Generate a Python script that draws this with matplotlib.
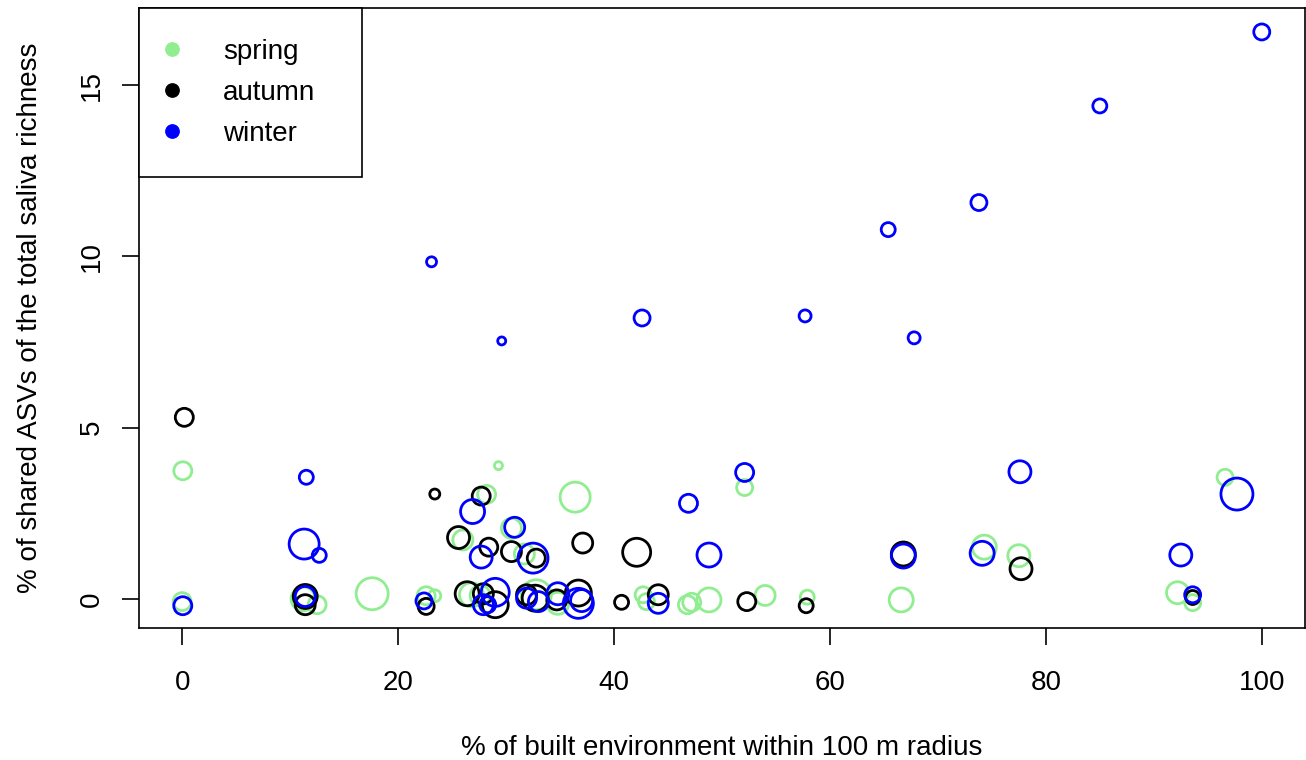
import numpy as np
import matplotlib
matplotlib.use("Agg")
import matplotlib.pyplot as plt
from matplotlib.lines import Line2D

plt.rcParams['font.family'] = ['Liberation Sans', 'DejaVu Sans']

# datos: x = % built, y = % shared ASVs, size = tamaño relativo del circulo
spring_x = [0.06, 29.3, 28.2, 36.4, 30.5, 26.0, 31.7, 52.1, 96.6, 74.3, 77.5,
            0.0, 12.5, 11.2, 17.6, 22.6, 23.4, 26.8, 27.6, 32.8, 34.8, 42.7,
            43.0, 46.8, 47.2, 48.8, 54.0, 57.9, 66.6, 92.2, 93.6]
spring_y = [3.74, 3.89, 3.05, 2.97, 2.06, 1.72, 1.31, 3.25, 3.55, 1.51, 1.26,
            -0.08, -0.17, 0.0, 0.15, 0.09, 0.09, 0.12, 0.10, 0.12, -0.13, 0.12,
            -0.08, -0.17, -0.10, -0.03, 0.10, 0.05, -0.03, 0.18, -0.11]
spring_size = [9, 4, 9, 15, 10, 10, 10, 8, 8, 12, 11,
               9, 9, 12, 16, 9, 6, 12, 10, 15, 11, 8,
               8, 9, 9, 12, 10, 7, 12, 11, 8]

autumn_x = [0.2, 23.4, 27.7, 25.6, 28.4, 30.5, 32.8, 37.1, 42.1, 66.8, 77.7,
            93.6, 11.4, 11.4, 22.6, 26.4, 27.9, 29.0, 31.9, 32.7, 34.7, 36.7,
            40.7, 44.1, 52.3, 57.8]
autumn_y = [5.30, 3.06, 3.00, 1.79, 1.51, 1.38, 1.19, 1.63, 1.36, 1.31, 0.88,
            0.04, 0.07, -0.17, -0.22, 0.15, 0.15, -0.17, 0.12, 0.02, -0.03, 0.17,
            -0.10, 0.12, -0.08, -0.20]
autumn_size = [9, 5, 9, 11, 9, 10, 9, 10, 14, 12, 11,
               7, 12, 10, 8, 12, 10, 13, 10, 13, 10, 13,
               7, 10, 9, 7]

winter_x = [100.0, 85.0, 73.8, 65.4, 23.1, 42.6, 57.7, 67.8, 29.6, 52.1, 46.9,
            77.6, 97.7, 11.5, 26.9, 30.8, 27.7, 32.5, 11.3, 12.7, 48.8, 66.8,
            74.1, 92.5, 93.6, 0.06, 11.4, 22.4, 29.0, 27.9, 28.3, 31.9, 33.0,
            34.8, 37.0, 36.7, 44.1]
winter_y = [16.55, 14.39, 11.57, 10.78, 9.84, 8.20, 8.26, 7.62, 7.53, 3.69, 2.79,
            3.71, 3.06, 3.55, 2.55, 2.09, 1.22, 1.19, 1.60, 1.27, 1.28, 1.25,
            1.33, 1.28, 0.12, -0.20, 0.07, -0.06, 0.19, -0.17, -0.17, 0.02, -0.08,
            0.15, -0.05, -0.13, -0.13]
winter_size = [8, 7, 8, 7, 5, 8, 6, 6, 4, 9, 9,
               11, 16, 7, 12, 10, 11, 15, 15, 7, 12, 12,
               12, 11, 8, 9, 10, 8, 14, 10, 8, 10, 10,
               11, 11, 15, 10]

seasons = ["spring", "autumn", "winter"]
colors = ["lightgreen", "black", "blue"]

dpi = 100
fig = plt.figure(figsize=(13.06, 7.6), dpi=dpi)
ax = fig.add_axes([0.1064, 0.1737, 0.8928, 0.8158])

px2pt = 72.0 / dpi
for xs, ys, ss, c in [(spring_x, spring_y, spring_size, colors[0]),
                      (autumn_x, autumn_y, autumn_size, colors[1]),
                      (winter_x, winter_y, winter_size, colors[2])]:
    s = (2 * np.array(ss) * px2pt) ** 2
    ax.scatter(xs, ys, s=s, facecolors='none', edgecolors=c, linewidths=2.0)

ax.set_xlim(-4, 104)
ax.set_ylim(-0.85, 17.25)
ax.set_xticks([0, 20, 40, 60, 80, 100])
ax.set_yticks([0, 5, 10, 15])
ax.tick_params(direction='out', length=12, width=1.2, labelsize=20)
ax.tick_params(axis='x', pad=18)
ax.tick_params(axis='y', pad=12.5)
for lab in ax.get_yticklabels():
    lab.set_rotation(90)
    lab.set_va('center')
for sp in ax.spines.values():
    sp.set_linewidth(1.2)

ax.set_xlabel('% of built environment within 100 m radius', fontsize=20)
ax.set_ylabel('% of shared ASVs of the total saliva richness', fontsize=20)
ax.xaxis.set_label_coords(0.5, -0.173)
ax.yaxis.set_label_coords(-0.082, 0.5)

handles = [Line2D([], [], marker='o', linestyle='', color=c, markersize=9.6) for c in colors]
leg = ax.legend(handles, seasons, loc='upper left', bbox_to_anchor=(0, 0, 0.1913, 1),
                mode='expand', borderaxespad=0, fancybox=False, framealpha=1,
                edgecolor='black', fontsize=20, borderpad=1.1, labelspacing=0.54,
                handlelength=0.17, handletextpad=1.75)
leg.get_frame().set_linewidth(1.2)

fig.savefig('out.png', dpi=dpi)
